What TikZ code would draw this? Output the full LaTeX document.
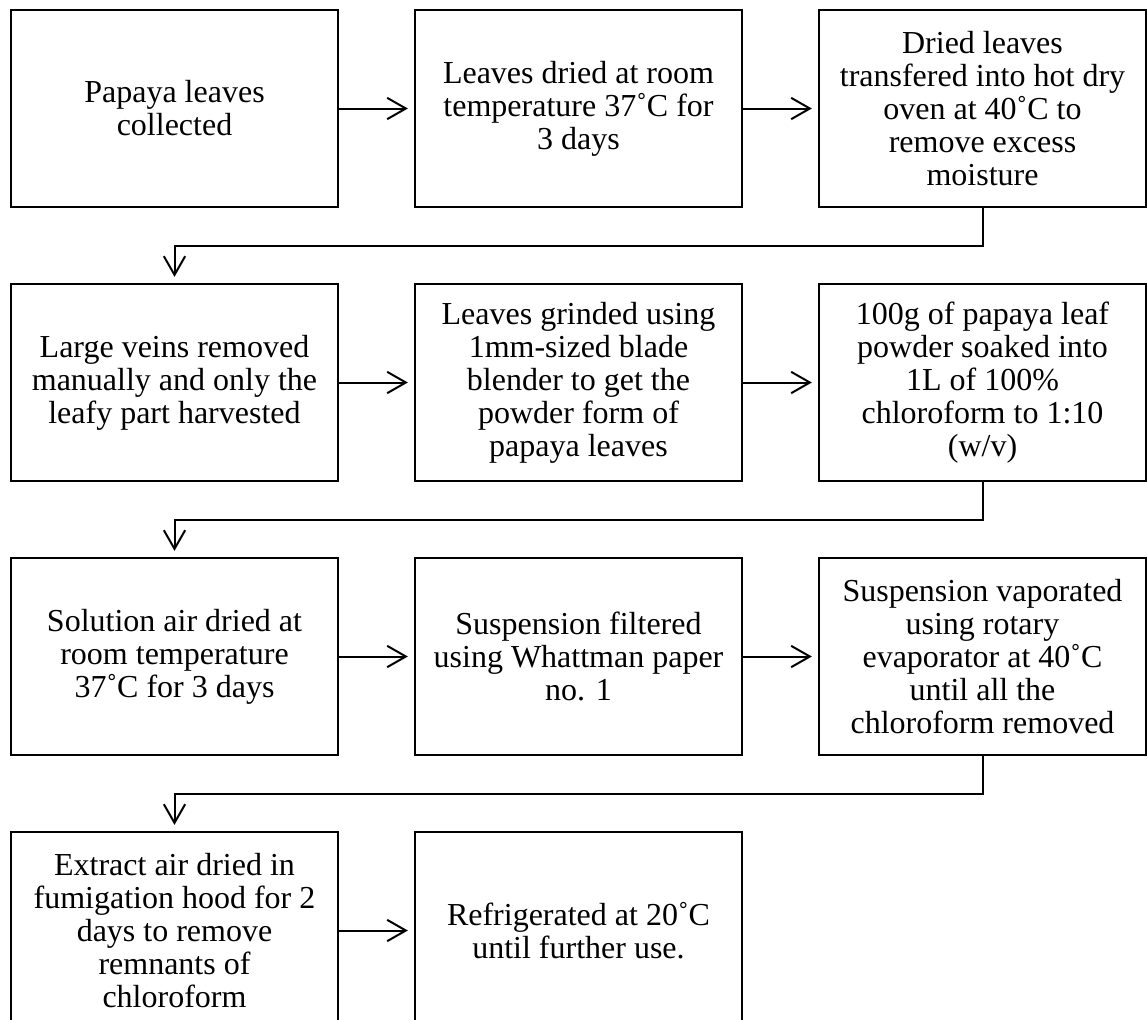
\documentclass[tikz,border=0pt]{standalone}
\usepackage{fontspec}
\setmainfont{Liberation Serif}
\usetikzlibrary{arrows.meta,positioning,calc}

\begin{document}
\begin{tikzpicture}[
    stepbox/.style = {draw, rectangle, line width=.75pt, align=center, inner sep=.2em,
                      minimum width=122.625pt, minimum height=73.875pt,
                      font=\fontsize{12pt}{12.4pt}\selectfont},
    flow/.style = {line width=.75pt, -{Straight Barb[length=7pt,width=8pt,line width=.75pt]}, shorten >=2.3pt},
    node distance = 28.125pt and 28.125pt
  ]
        \clip (0,0) rectangle (430.125pt,-382.125pt);

        % first row
        \draw node[stepbox, anchor=north west] (collect) at (3.75pt,-3.375pt) {Papaya leaves\\collected};
        \draw node[stepbox, right = of collect] (dry) {Leaves dried at room\\temperature 37˚C for\\3 days};
        \draw node[stepbox, right = of dry] (oven) {Dried leaves\\transfered into hot dry\\oven at 40˚C to\\remove excess\\moisture};

        % second row
        \draw node[stepbox, below = of collect] (veins) {Large veins removed\\manually and only the\\leafy part harvested};
        \draw node[stepbox, right = of veins] (grind) {Leaves grinded using\\1mm-sized blade\\blender to get the\\powder form of\\papaya leaves};
        \draw node[stepbox, right = of grind] (soak) {100g of papaya leaf\\powder soaked into\\1L of 100\%\\chloroform to 1:10\\(w/v)};

        % third row
        \draw node[stepbox, below = of veins] (airdry) {Solution air dried at\\room temperature\\37˚C for 3 days};
        \draw node[stepbox, right = of airdry] (filter) {Suspension filtered\\using Whattman paper\\no. 1};
        \draw node[stepbox, right = of filter] (evap) {Suspension vaporated\\using rotary\\evaporator at 40˚C\\until all the\\chloroform removed};

        % last row
        \draw node[stepbox, below = of airdry] (hood) {Extract air dried in\\fumigation hood for 2\\days to remove\\remnants of\\chloroform};
        \draw node[stepbox, right = of hood] (fridge) {Refrigerated at 20˚C\\until further use.};

        \draw[flow] (collect) -- (dry);
        \draw[flow] (dry) -- (oven);
        \draw[flow] (oven.south) |- ($(collect.south)!.5!(veins.north)$) -- (veins.north);
        \draw[flow] (veins) -- (grind);
        \draw[flow] (grind) -- (soak);
        \draw[flow] (soak.south) |- ($(veins.south)!.5!(airdry.north)$) -- (airdry.north);
        \draw[flow] (airdry) -- (filter);
        \draw[flow] (filter) -- (evap);
        \draw[flow] (evap.south) |- ($(airdry.south)!.5!(hood.north)$) -- (hood.north);
        \draw[flow] (hood) -- (fridge);
\end{tikzpicture}
\end{document}
